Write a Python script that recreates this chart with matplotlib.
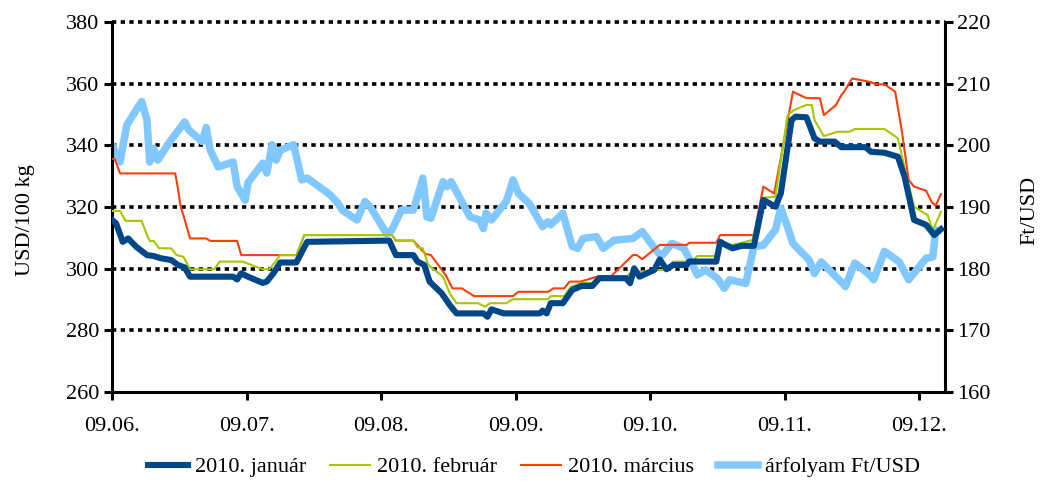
import matplotlib
matplotlib.use("Agg")
import matplotlib.pyplot as plt
import matplotlib.lines as mlines

plt.rcParams['font.family'] = ['Liberation Serif', 'DejaVu Serif']

# x positions in months since 2009-06 (0 = 09.06.)
month_labels = ["09.06.", "09.07.", "09.08.", "09.09.", "09.10.", "09.11.", "09.12."]

jan_x = [0.00, 0.03, 0.08, 0.12, 0.18, 0.26, 0.31, 0.36, 0.44, 0.49, 0.54, 0.58, 0.90, 0.93, 0.96, 1.01,
         1.12, 1.15, 1.20, 1.25, 1.37, 1.45, 2.06, 2.11, 2.24, 2.27, 2.32, 2.36, 2.45, 2.51, 2.56, 2.76,
         2.79, 2.82, 2.91, 3.18, 3.20, 3.23, 3.26, 3.35, 3.42, 3.49, 3.57, 3.62, 3.82, 3.85, 3.88, 3.92,
         4.03, 4.07, 4.12, 4.17, 4.27, 4.29, 4.49, 4.52, 4.56, 4.61, 4.68, 4.77, 4.84, 4.93, 4.97, 5.05,
         5.08, 5.16, 5.22, 5.26, 5.37, 5.42, 5.60, 5.64, 5.74, 5.84, 5.89, 5.96, 6.05, 6.11, 6.16]
jan_y = [315.8, 314.7, 308.7, 309.8, 307.1, 304.4, 304.1, 303.4, 302.8, 301.2, 300.4, 297.4, 297.4, 296.5, 298.5, 297.4,
         295.4, 295.8, 298.5, 302.0, 302.0, 308.7, 309.1, 304.4, 304.4, 302.3, 301.2, 295.8, 292.0, 288.2, 285.5, 285.5,
         284.4, 286.8, 285.5, 285.5, 286.4, 285.5, 288.8, 288.8, 293.1, 294.4, 294.4, 296.9, 296.9, 295.3, 300.1, 297.4,
         299.6, 303.0, 299.8, 301.2, 301.2, 302.3, 302.3, 308.7, 307.7, 306.6, 307.4, 307.4, 322.3, 320.1, 324.4, 348.2,
         349.3, 349.1, 342.3, 341.2, 341.2, 339.4, 339.4, 337.9, 337.6, 336.3, 329.8, 315.8, 314.2, 310.9, 312.8]

feb_x = [0.00, 0.06, 0.10, 0.22, 0.26, 0.28, 0.31, 0.35, 0.44, 0.48, 0.53, 0.58, 0.76, 0.80, 0.97, 1.12,
         1.17, 1.25, 1.37, 1.43, 2.08, 2.11, 2.24, 2.27, 2.31, 2.35, 2.46, 2.51, 2.56, 2.72, 2.77, 2.81,
         2.93, 2.98, 3.24, 3.26, 3.36, 3.41, 3.49, 3.59, 3.62, 3.82, 3.85, 3.92, 4.03, 4.12, 4.17, 4.31,
         4.35, 4.49, 4.52, 4.61, 4.76, 4.84, 4.93, 5.02, 5.07, 5.16, 5.20, 5.22, 5.29, 5.39, 5.48, 5.52,
         5.74, 5.84, 5.90, 5.96, 6.06, 6.10, 6.16]
feb_y = [318.7, 318.7, 315.5, 315.5, 310.9, 309.0, 309.0, 306.6, 306.6, 304.4, 303.9, 299.8, 299.8, 302.3, 302.3, 299.8,
         299.8, 304.4, 304.4, 310.9, 310.9, 309.1, 309.1, 306.9, 306.6, 301.2, 297.4, 292.0, 288.8, 288.8, 287.7, 288.8,
         288.8, 290.1, 290.1, 291.1, 291.1, 294.1, 295.4, 295.4, 297.4, 297.4, 298.5, 299.0, 299.6, 299.6, 302.3, 302.3,
         304.1, 304.1, 308.7, 307.7, 309.3, 323.0, 323.3, 349.8, 351.5, 353.1, 353.1, 348.2, 343.0, 344.4, 344.4, 345.3,
         345.3, 342.3, 330.9, 320.1, 317.4, 312.5, 318.5]

mar_x = [0.00, 0.02, 0.06, 0.47, 0.49, 0.51, 0.53, 0.58, 0.70, 0.73, 0.93, 0.96, 1.25, 1.37, 1.43, 2.08,
         2.11, 2.24, 2.29, 2.33, 2.37, 2.48, 2.53, 2.60, 2.69, 2.98, 3.02, 3.24, 3.28, 3.36, 3.40, 3.48,
         3.62, 3.71, 3.87, 3.90, 3.94, 4.07, 4.27, 4.29, 4.49, 4.52, 4.77, 4.84, 4.92, 4.97, 5.06, 5.16,
         5.26, 5.29, 5.38, 5.42, 5.44, 5.50, 5.63, 5.68, 5.74, 5.82, 5.87, 5.92, 5.96, 6.05, 6.09, 6.12, 6.16]
mar_y = [335.6, 335.6, 330.9, 330.9, 326.0, 320.1, 317.4, 309.8, 309.8, 309.0, 309.0, 304.4, 304.4, 304.4, 310.9, 310.9,
         309.1, 309.1, 306.6, 304.8, 304.4, 297.9, 293.6, 293.6, 291.1, 291.1, 292.5, 292.5, 293.6, 293.6, 295.8, 295.8,
         297.6, 297.6, 304.4, 304.4, 303.1, 307.7, 307.7, 308.4, 308.4, 310.9, 310.9, 326.6, 324.4, 335.8, 357.4, 355.3,
         355.3, 349.8, 353.1, 356.3, 357.4, 361.7, 360.6, 359.8, 359.8, 357.4, 344.4, 328.8, 326.6, 325.3, 321.7, 320.4, 324.2]

fx_x = [0.00, 0.06, 0.11, 0.22, 0.26, 0.28, 0.31, 0.34, 0.43, 0.54, 0.57, 0.67, 0.70, 0.73, 0.79, 0.90,
        0.93, 0.99, 1.01, 1.12, 1.15, 1.19, 1.22, 1.25, 1.35, 1.41, 1.45, 1.62, 1.68, 1.71, 1.82, 1.88,
        1.92, 2.04, 2.08, 2.15, 2.24, 2.31, 2.34, 2.37, 2.46, 2.49, 2.52, 2.66, 2.73, 2.76, 2.78, 2.82,
        2.93, 2.98, 3.02, 3.10, 3.20, 3.24, 3.26, 3.35, 3.42, 3.46, 3.50, 3.60, 3.65, 3.73, 3.87, 3.94,
        4.06, 4.09, 4.16, 4.25, 4.35, 4.41, 4.50, 4.55, 4.59, 4.71, 4.77, 4.84, 4.93, 4.97, 5.01, 5.06,
        5.18, 5.22, 5.27, 5.43, 5.45, 5.52, 5.63, 5.66, 5.74, 5.85, 5.92, 6.05, 6.10, 6.12]
fx_y = [200.0, 197.3, 203.3, 207.1, 204.1, 197.3, 199.5, 197.6, 200.6, 203.8, 202.5, 200.6, 202.9, 199.2, 196.5, 197.3,
        193.3, 191.1, 193.9, 197.1, 195.5, 200.1, 197.6, 199.2, 200.1, 194.4, 194.7, 192.0, 190.6, 189.5, 187.9, 190.9,
        190.0, 185.7, 186.3, 189.5, 189.5, 194.7, 188.4, 188.2, 194.1, 193.3, 194.1, 188.4, 187.9, 186.5, 189.0, 187.9,
        190.9, 194.4, 192.2, 190.6, 186.8, 187.6, 187.1, 189.0, 183.6, 183.3, 184.9, 185.2, 183.3, 184.6, 184.9, 186.0,
        182.5, 182.2, 184.1, 183.3, 179.0, 179.8, 178.4, 176.8, 178.2, 177.6, 183.6, 183.8, 186.3, 189.8, 187.4, 184.1,
        181.4, 179.2, 181.1, 177.6, 177.1, 180.9, 179.0, 178.2, 182.8, 181.1, 178.2, 181.7, 181.9, 186.3]

c_jan = "#00478A"
c_feb = "#A6C800"
c_mar = "#FF3D0D"
c_fx = "#80C8FF"

fig = plt.figure(figsize=(10.41, 4.86), dpi=100)
ax = fig.add_axes([112/1041, 1-392/486, (945-112)/1041, (392-22)/486])
ax2 = ax.twinx()
ax.set_zorder(ax2.get_zorder() + 1)
ax.patch.set_visible(False)

ax2.plot(fx_x, fx_y, color=c_fx, lw=5.4, solid_joinstyle='round', solid_capstyle='round', zorder=3)
l_mar, = ax.plot(mar_x, mar_y, color=c_mar, lw=1.5, zorder=3)
l_feb, = ax.plot(feb_x, feb_y, color=c_feb, lw=1.5, zorder=4)
l_jan, = ax.plot(jan_x, jan_y, color=c_jan, lw=4.4, solid_joinstyle='round', zorder=5)

ax.set_xlim(0, 6.19)
ax.set_ylim(260, 380)
ax2.set_ylim(160, 220)
ax.set_yticks(range(260, 381, 20))
ax2.set_yticks(range(160, 221, 10))
ax.set_xticks(range(len(month_labels)))
ax.set_xticklabels(month_labels)

# dotted gridlines drawn on the bottom (secondary) axes
for v in range(170, 221, 10):
    ax2.axhline(v, color='black', lw=2.6, linestyle=(0, (1.2, 1.2)), zorder=1, clip_on=False)

for a in (ax, ax2):
    a.spines['top'].set_visible(False)
    for s in ('left', 'right', 'bottom'):
        a.spines[s].set_linewidth(2.2)
ax.spines['right'].set_visible(False)
ax2.spines['left'].set_visible(False)
ax2.spines['bottom'].set_visible(False)

fs = 16
ax.tick_params(axis='y', direction='out', length=6, width=2.2, labelsize=fs, pad=3)
ax.tick_params(axis='x', direction='out', length=6, width=2.2, labelsize=fs, pad=12)
ax2.tick_params(axis='y', direction='out', length=6, width=2.2, labelsize=fs, pad=3)

ax.set_ylabel("USD/100 kg", fontsize=fs)
ax.yaxis.set_label_coords((35-112)/833, 0.465)
ax2.set_ylabel("Ft/USD", fontsize=fs)
ax2.yaxis.set_label_coords((1020-112)/833, 0.49)

h_fx = mlines.Line2D([], [], color=c_fx, lw=5.4)
fig.legend([l_jan, l_feb, l_mar, h_fx],
           ["2010. január", "2010. február", "2010. március", "árfolyam Ft/USD"],
           loc='center', bbox_to_anchor=(534/1041, 1-467/486), ncol=4, frameon=False,
           fontsize=fs, handlelength=1.8, handletextpad=0.3, columnspacing=1.1)

fig.savefig("out.png", dpi=100)
